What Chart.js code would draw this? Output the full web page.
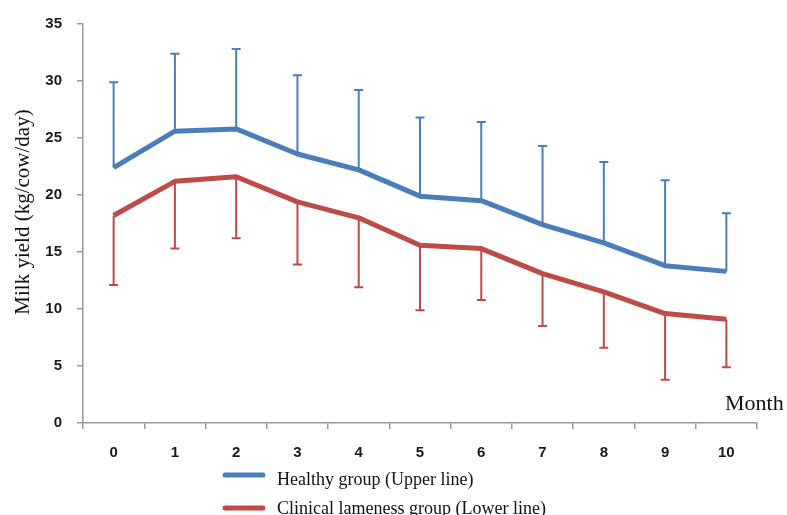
<!DOCTYPE html>
<html>
<head>
<meta charset="utf-8">
<script src="https://cdn.jsdelivr.net/npm/chart.js@4.4.1/dist/chart.umd.min.js"></script>
<style>
  html, body { margin: 0; padding: 0; background: #fff; }
  #wrap { position: relative; width: 787px; height: 515px; }
</style>
</head>
<body>
<div id="wrap"><canvas id="c"></canvas></div>
<script>
const months = ['0', '1', '2', '3', '4', '5', '6', '7', '8', '9', '10'];
const healthyMean  = [22.4, 25.6, 25.8, 23.6, 22.2, 19.9, 19.5, 17.4, 15.8, 13.8, 13.3];
const healthyUpper = [29.9, 32.4, 32.8, 30.5, 29.2, 26.8, 26.4, 24.3, 22.9, 21.3, 18.4];
const lamenessMean  = [18.2, 21.2, 21.6, 19.4, 18.0, 15.6, 15.3, 13.1, 11.5, 9.6, 9.1];
const lamenessLower = [12.1, 15.3, 16.2, 13.9, 11.9, 9.9, 10.8, 8.5, 6.6, 3.8, 4.9];
const yTicks = [0, 5, 10, 15, 20, 25, 30, 35];

const BLUE = '#4a7ebb';
const RED = '#be4b48';
const AXIS = '#9a9a9a';

const errorBars = {
  id: 'errorBars',
  beforeDatasetsDraw(chart) {
    const ctx = chart.ctx;
    const x = chart.scales.x, y = chart.scales.y;
    chart.data.datasets.forEach((ds) => {
      const bounds = ds.errorBound;
      ctx.save();
      ctx.strokeStyle = ds.borderColor;
      ctx.lineWidth = 2;
      bounds.forEach((b, i) => {
        const px = x.getPixelForValue(i);
        const y0 = y.getPixelForValue(ds.data[i]);
        const y1 = y.getPixelForValue(b);
        ctx.beginPath();
        ctx.moveTo(px, y0);
        ctx.lineTo(px, y1);
        ctx.moveTo(px - 4.5, y1);
        ctx.lineTo(px + 4.5, y1);
        ctx.stroke();
      });
      ctx.restore();
    });
  }
};

const annotations = {
  id: 'annotations',
  afterDraw(chart) {
    const ctx = chart.ctx;
    ctx.save();
    // Y axis title
    ctx.fillStyle = '#111';
    ctx.font = '21px "Liberation Serif", "Times New Roman", serif';
    ctx.textAlign = 'center';
    ctx.textBaseline = 'middle';
    ctx.translate(23, 212);
    ctx.rotate(-Math.PI / 2);
    ctx.fillText('Milk yield (kg/cow/day)', 0, 0);
    ctx.restore();

    ctx.save();
    ctx.fillStyle = '#111';
    ctx.font = '22px "Liberation Serif", "Times New Roman", serif';
    ctx.textAlign = 'left';
    ctx.textBaseline = 'middle';
    ctx.fillText('Month', 725, 404);

    // Legend
    const items = chart.data.datasets;
    const lineY = [475, 508];
    const textY = [485, 514];
    ctx.font = '18px "Liberation Serif", "Times New Roman", serif';
    ctx.textBaseline = 'alphabetic';
    items.forEach((ds, i) => {
      ctx.strokeStyle = ds.borderColor;
      ctx.lineWidth = 5;
      ctx.lineCap = 'round';
      ctx.beginPath();
      ctx.moveTo(225, lineY[i]);
      ctx.lineTo(263, lineY[i]);
      ctx.stroke();
      ctx.fillStyle = '#111';
      ctx.fillText(ds.label, 277, textY[i]);
    });
    ctx.restore();
  }
};

new Chart(document.getElementById('c'), {
  type: 'line',
  data: {
    labels: months,
    datasets: [
      {
        label: 'Healthy group (Upper line)',
        data: healthyMean,
        errorBound: healthyUpper,
        borderColor: BLUE,
        borderWidth: 5,
        pointRadius: 0,
        tension: 0,
        borderJoinStyle: 'round'
      },
      {
        label: 'Clinical lameness group (Lower line)',
        data: lamenessMean,
        errorBound: lamenessLower,
        borderColor: RED,
        borderWidth: 5,
        pointRadius: 0,
        tension: 0,
        borderJoinStyle: 'round'
      }
    ]
  },
  options: {
    responsive: true,
    maintainAspectRatio: false,
    animation: false,
    layout: { padding: { top: 22, right: 30, left: 0, bottom: 0 } },
    plugins: { legend: { display: false }, tooltip: { enabled: false } },
    scales: {
      x: {
        type: 'category',
        offset: true,
        grid: { offset: true, drawOnChartArea: false, drawTicks: true, tickLength: 6, color: AXIS, lineWidth: 1.5 },
        border: { color: AXIS, width: 1.5 },
        ticks: { color: '#1a1a1a', font: { family: '"Liberation Sans", Arial, sans-serif', size: 15, weight: 'bold' }, padding: 15, maxRotation: 0 },
        afterFit(scale) { scale.height = 92; }
      },
      y: {
        min: 0,
        max: 35,
        afterBuildTicks(scale) { scale.ticks = yTicks.map(v => ({ value: v })); },
        grid: { drawOnChartArea: false, drawTicks: true, tickLength: 6, color: AXIS, lineWidth: 1.5 },
        border: { color: AXIS, width: 1.5 },
        ticks: { color: '#1a1a1a', font: { family: '"Liberation Sans", Arial, sans-serif', size: 15, weight: 'bold' }, padding: 15 },
        afterFit(scale) { scale.width = 83; }
      }
    }
  },
  plugins: [errorBars, annotations]
});
</script>
</body>
</html>
